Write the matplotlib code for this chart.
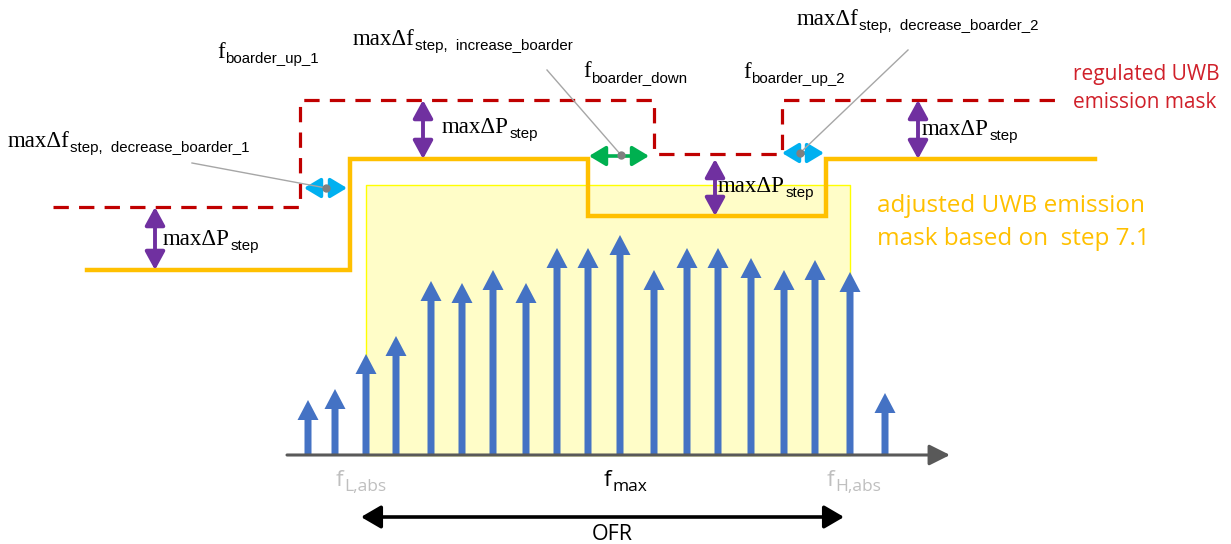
import matplotlib
matplotlib.use("Agg")
import matplotlib.pyplot as plt

# ---------------- data (diagram units = reference pixels, y grows downward) ----------------
axis_y = 455
tone_freq = [308, 335, 366, 396, 431, 462, 493, 526, 557, 588, 620, 654, 687, 718, 751, 784, 815, 850, 885]
tone_tip = [400, 389, 354, 336, 281, 283, 270, 283, 248, 248, 235, 270, 248, 248, 258, 270, 260, 272, 393]

adj_mask_f = [87, 350, 350, 588, 588, 826, 826, 1095]
adj_mask_p = [270, 270, 159, 159, 216, 216, 159, 159]

reg_mask_f = [53, 300, 300, 654, 654, 782, 782, 1062]
reg_mask_p = [207, 207, 100, 100, 154, 154, 100, 100]

ofr_f = [366, 850]           # shaded occupied range
ofr_top = 185

dp_f = [155, 423, 715, 918]          # maxΔP arrows
dp_top = [207, 100, 159, 100]
dp_bot = [270, 159, 216, 159]

# ---------------- figure ----------------
W, H = 1231, 544
fig = plt.figure(figsize=(W / 100, H / 100), dpi=100)
ax = fig.add_axes([0, 0, 1, 1])
ax.set_xlim(0, W)
ax.set_ylim(H, 0)
ax.axis("off")

BLUE = "#4472C4"
ORANGE = "#FFC000"
RED = "#C00000"
PURPLE = "#7030A0"
CYAN = "#00B0F0"
GREEN = "#00B050"
GREYL = "#A6A6A6"

# shaded region
ax.fill_between(ofr_f, [ofr_top, ofr_top], [axis_y, axis_y], facecolor="#FFFDC8",
                edgecolor="#FFFF00", linewidth=1.0, zorder=1)

# tones
for f, tip in zip(tone_freq, tone_tip):
    ax.arrow(f, axis_y, 0, tip - axis_y, width=7, head_width=21, head_length=20,
             length_includes_head=True, color=BLUE, linewidth=0, zorder=3)

# frequency axis
ax.annotate("", xy=(950, axis_y), xytext=(287, axis_y),
            arrowprops=dict(arrowstyle="-|>,head_length=0.7,head_width=0.35", color="#595959",
                            lw=2.2, mutation_scale=18, shrinkA=0, shrinkB=0), zorder=4)

# masks
ax.plot(adj_mask_f, adj_mask_p, color=ORANGE, lw=3.2, solid_joinstyle="miter", zorder=5)
ax.plot(reg_mask_f, reg_mask_p, color=RED, lw=2.3, dashes=(4.8, 3.2), zorder=5)

# maxΔP arrows
for f, t, b in zip(dp_f, dp_top, dp_bot):
    ax.annotate("", xy=(f, t), xytext=(f, b),
                arrowprops=dict(arrowstyle="<|-|>,head_length=0.55,head_width=0.3", color=PURPLE,
                                lw=2.8, mutation_scale=20, shrinkA=0, shrinkB=0), zorder=6)

# Δf arrows
def hdouble(x0, x1, y, col):
    ax.annotate("", xy=(x1, y), xytext=(x0, y),
                arrowprops=dict(arrowstyle="<|-|>,head_length=0.5,head_width=0.3", color=col,
                                lw=2.6, mutation_scale=20, shrinkA=0, shrinkB=0), zorder=6)

hdouble(304, 347, 188, CYAN)
hdouble(782, 824, 153, CYAN)
hdouble(589, 649, 156, GREEN)

# leader lines and dots
leaders = [((192, 163), (326, 188)), ((547, 70), (621, 155)), ((908, 50), (800, 153))]
for (xa, ya), (xb, yb) in leaders:
    ax.plot([xa, xb], [ya, yb], color=GREYL, lw=1.0, zorder=7)
    ax.plot([xb], [yb], "o", color="#808080", ms=6, mew=0, zorder=8)

# OFR arrow
ax.annotate("", xy=(844, 517), xytext=(361, 517),
            arrowprops=dict(arrowstyle="<|-|>,head_length=0.6,head_width=0.35", color="black",
                            lw=2.6, mutation_scale=20, shrinkA=0, shrinkB=0), zorder=6)

# ---------------- text helpers ----------------
renderer = fig.canvas.get_renderer()
SERIF = "Liberation Serif"
SANS = "Liberation Sans"


def sub_label(x, y, base, sub, bsize, ssize, dy, color="black", bfont=SERIF, sfont=SANS, gap=0.5):
    t = ax.text(x, y, base, fontsize=bsize, family=bfont, color=color,
                ha="left", va="baseline", zorder=10)
    bb = t.get_window_extent(renderer)
    x1 = ax.transData.inverted().transform((bb.x1, bb.y0))[0]
    ax.text(x1 + gap, y + dy, sub, fontsize=ssize, family=sfont, color=color,
            ha="left", va="baseline", zorder=10)


MS, SS = 16.5, 10.8
sub_label(8, 147, "maxΔf", "step,  decrease_boarder_1", MS, SS, 5)
sub_label(217, 58, "f", "boarder_up_1", MS, SS, 5)
sub_label(353, 45, "maxΔf", "step,  increase_boarder", MS, SS, 5)
sub_label(583, 77, "f", "boarder_down", MS, SS, 5)
sub_label(743, 78, "f", "boarder_up_2", MS, SS, 5)
sub_label(797, 25, "maxΔf", "step,  decrease_boarder_2", MS, SS, 5)

dp_lab = [(163, 245), (442, 133), (718, 192), (922, 135)]
for lx, ly in dp_lab:
    sub_label(lx, ly, "maxΔP", "step", MS, SS, 5)

CAL = "Open Sans"
ax.text(1073, 80, "regulated UWB", fontsize=15, family=CAL, color="#D0202A",
        ha="left", va="baseline")
ax.text(1073, 108, "emission mask", fontsize=15, family=CAL, color="#D0202A",
        ha="left", va="baseline")
ax.text(877, 212, "adjusted UWB emission", fontsize=17.5, family=CAL, color=ORANGE,
        ha="left", va="baseline")
ax.text(877, 245, "mask based on  step 7.1", fontsize=17.5, family=CAL, color=ORANGE,
        ha="left", va="baseline")

sub_label(336, 486, "f", "L,abs", 16, 12.5, 5, color="#BFBFBF", bfont=CAL, sfont=CAL)
sub_label(604, 486, "f", "max", 16, 12.5, 5, color="black", bfont=CAL, sfont=CAL)
sub_label(827, 486, "f", "H,abs", 16, 12.5, 5, color="#BFBFBF", bfont=CAL, sfont=CAL)
ax.text(612, 540, "OFR", fontsize=15.5, family=CAL, color="black", ha="center", va="baseline")

fig.savefig("out.png", dpi=100, facecolor="white")
